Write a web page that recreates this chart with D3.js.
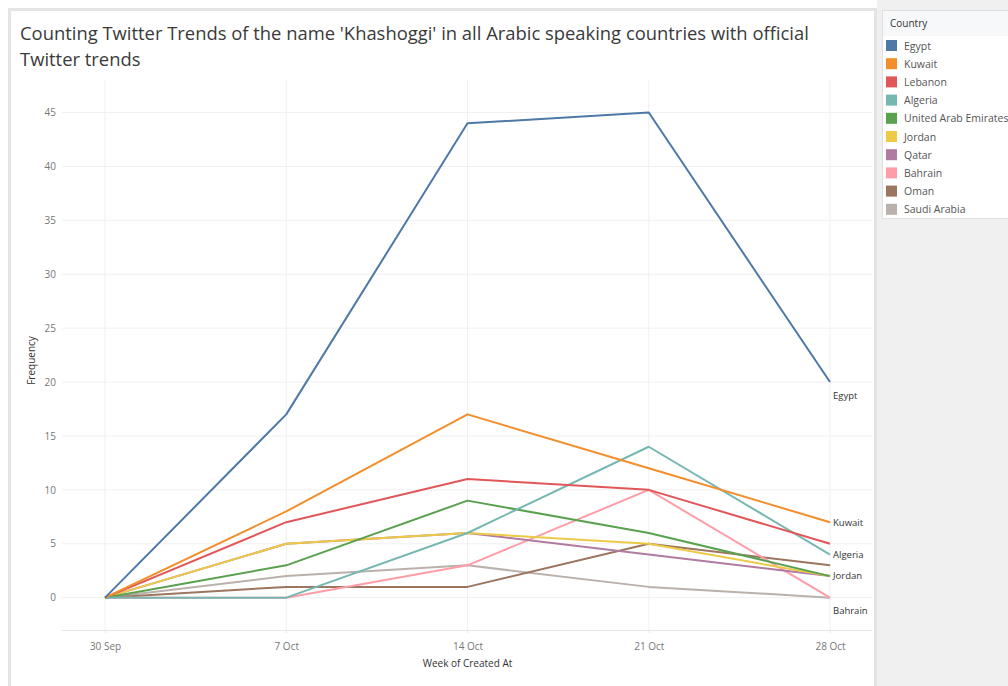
<!DOCTYPE html>
<html>
<head>
<meta charset="utf-8">
<script src="https://cdn.jsdelivr.net/npm/d3@7"></script>
<style>
  body { margin: 0; background: #fff; font-family: "Open Sans", "Noto Sans", sans-serif; }
</style>
</head>
<body>
<div id="chart"></div>
<script>
const weeks = ["30 Sep", "7 Oct", "14 Oct", "21 Oct", "28 Oct"]
const countries = ["Egypt", "Kuwait", "Lebanon", "Algeria", "United Arab Emirates",
  "Jordan", "Qatar", "Bahrain", "Oman", "Saudi Arabia"]
const colors = ["#4e79a7", "#f28e2b", "#e15759", "#76b7b2", "#59a14f",
  "#edc948", "#b07aa1", "#ff9da7", "#9c755f", "#bab0ac"]
const counts = [
  [0, 17, 44, 45, 20],
  [0, 8, 17, 12, 7],
  [0, 7, 11, 10, 5],
  [0, 0, 6, 14, 4],
  [0, 3, 9, 6, 2],
  [0, 5, 6, 5, 2],
  [0, 5, 6, 4, 2],
  [0, 0, 3, 10, 0],
  [0, 1, 1, 5, 3],
  [0, 2, 3, 1, 0]
]
const yTicks = [0, 5, 10, 15, 20, 25, 30, 35, 40, 45]
// only some lines get an end label in the original
const endLabels = ["Egypt", "Kuwait", "Algeria", "Jordan", "Bahrain"]

const width = 1008
const height = 686

const svg = d3.select('#chart')
  .append('svg')
  .attr('width', width)
  .attr('height', height)

// right side panel + chart frame
svg.append('rect')
  .attr('x', 877).attr('y', 0)
  .attr('width', width - 877).attr('height', height)
  .attr('fill', '#f0f0f0')
svg.append('rect')
  .attr('x', 9.5).attr('y', 9.5)
  .attr('width', 866).attr('height', height)
  .attr('fill', '#fff')
  .attr('stroke', '#e4e4e4')
  .attr('stroke-width', 3)

// title
const title = svg.append('text')
  .attr('x', 20)
  .attr('fill', '#3a3a3a')
  .attr('font-size', 18.4)
title.append('tspan').attr('x', 20).attr('y', 40)
  .text("Counting Twitter Trends of the name 'Khashoggi' in all Arabic speaking countries with official")
title.append('tspan').attr('x', 20).attr('y', 66)
  .text('Twitter trends')

const x = d3.scalePoint()
  .domain(weeks)
  .range([105, 830])

const y = d3.scaleLinear()
  .domain([-3, 47])
  .range([630, 91])

// gridlines
svg.append('g')
  .selectAll('line')
  .data(yTicks)
  .join('line')
  .attr('x1', 62).attr('x2', 872)
  .attr('y1', d => y(d)).attr('y2', d => y(d))
  .attr('stroke', '#f0f0f0')
  .attr('stroke-width', 1)

svg.append('g')
  .selectAll('line')
  .data(weeks)
  .join('line')
  .attr('x1', d => x(d)).attr('x2', d => x(d))
  .attr('y1', 80).attr('y2', 630)
  .attr('stroke', '#f0f0f0')
  .attr('stroke-width', 1)

// y axis
const yAxis = svg.append('g')
  .attr('transform', 'translate(60,0)')
  .call(d3.axisLeft(y).tickValues(yTicks).tickSize(0).tickPadding(4))
yAxis.select('.domain').remove()
yAxis.selectAll('text')
  .attr('fill', '#777')
  .attr('font-size', 10)
  .attr('font-family', '"Open Sans", sans-serif')

svg.append('text')
  .attr('transform', `translate(35,${y(22)}) rotate(-90)`)
  .attr('text-anchor', 'middle')
  .attr('fill', '#333')
  .attr('font-size', 10)
  .text('Frequency')

// x axis
const xAxis = svg.append('g')
  .attr('transform', 'translate(0,630)')
  .call(d3.axisBottom(x).tickSize(3).tickPadding(10))
xAxis.select('.domain')
  .attr('stroke', '#e6e6e6')
  .attr('d', 'M62,0.5H872')
xAxis.selectAll('.tick line').attr('stroke', '#e6e6e6')
xAxis.selectAll('text')
  .attr('fill', '#777')
  .attr('font-size', 10)
  .attr('font-family', '"Open Sans", sans-serif')

svg.append('text')
  .attr('x', x(weeks[2]))
  .attr('y', 667)
  .attr('text-anchor', 'middle')
  .attr('fill', '#333')
  .attr('font-size', 10)
  .text('Week of Created At')

// lines - first legend entries drawn last so they sit on top
const series = countries.map((name, i) => ({
  name,
  color: colors[i],
  values: counts[i].map((v, j) => ({ week: weeks[j], value: v }))
}))

const line = d3.line()
  .x(d => x(d.week))
  .y(d => y(d.value))

svg.append('g')
  .selectAll('path')
  .data(series.slice().reverse())
  .join('path')
  .attr('d', d => line(d.values))
  .attr('fill', 'none')
  .attr('stroke', d => d.color)
  .attr('stroke-width', 2)
  .attr('stroke-linejoin', 'round')

// end labels
const labelShift = { Egypt: 14, Bahrain: 13 }
svg.append('g')
  .selectAll('text')
  .data(series.filter(s => endLabels.includes(s.name)))
  .join('text')
  .attr('x', d => x(weeks[weeks.length - 1]) + 3)
  .attr('y', d => y(d.values[d.values.length - 1].value) + (labelShift[d.name] || 0))
  .attr('dy', '0.35em')
  .attr('fill', '#333')
  .attr('font-size', 9.5)
  .text(d => d.name)

// legend
const legend = svg.append('g').attr('transform', 'translate(882,10)')
legend.append('rect')
  .attr('x', 0.5).attr('y', 0.5)
  .attr('width', 126).attr('height', 208)
  .attr('fill', '#fff')
  .attr('stroke', '#e0e0e0')
legend.append('rect')
  .attr('x', 1).attr('y', 1)
  .attr('width', 126).attr('height', 25)
  .attr('fill', '#f6f8fa')
legend.append('text')
  .attr('x', 8).attr('y', 17)
  .attr('fill', '#333')
  .attr('font-size', 10)
  .text('Country')

const items = legend.selectAll('g.item')
  .data(series)
  .join('g')
  .attr('class', 'item')
  .attr('transform', (d, i) => `translate(4,${30 + i * 18.2})`)
items.append('rect')
  .attr('width', 11).attr('height', 11)
  .attr('fill', d => d.color)
items.append('text')
  .attr('x', 18).attr('y', 6)
  .attr('dy', '0.35em')
  .attr('fill', '#555')
  .attr('font-size', 10.5)
  .text(d => d.name)
</script>
</body>
</html>
